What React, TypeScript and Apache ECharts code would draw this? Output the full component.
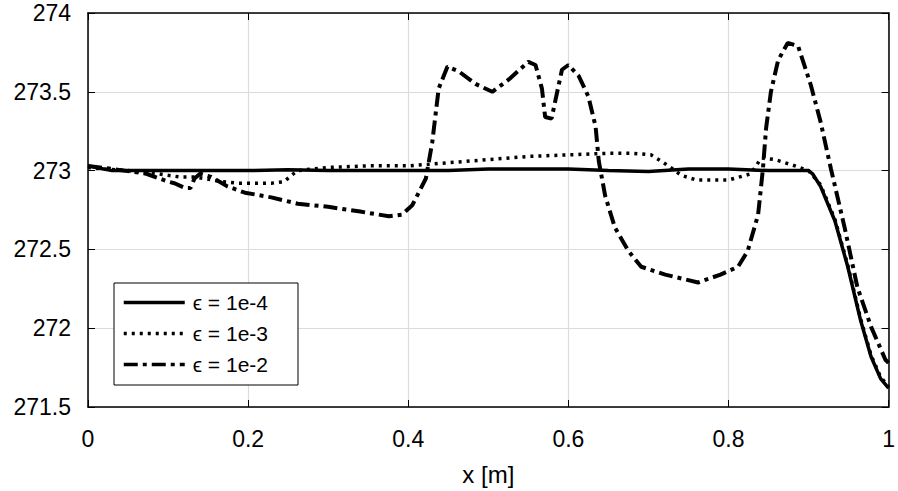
import React, { useEffect, useRef } from "react";
import * as echarts from "echarts";

const xTicks = [0, 0.2, 0.4, 0.6, 0.8, 1];
const yTicks = [271.5, 272, 272.5, 273, 273.5, 274];

const seriesNames = ["\u03f5 = 1e-4", "\u03f5 = 1e-3", "\u03f5 = 1e-2"];

const xSolid = [0, 0.01, 0.03, 0.06, 0.1, 0.15, 0.2, 0.25, 0.3, 0.35, 0.4, 0.45, 0.5, 0.55, 0.6, 0.65, 0.7, 0.75, 0.8, 0.85, 0.9, 0.905, 0.915, 0.933, 0.949, 0.965, 0.978, 0.99, 1.0];
const ySolid = [273.03, 273.02, 273.0, 273.0, 273.0, 273.0, 273.0, 273.005, 273.0, 273.0, 273.0, 273.0, 273.01, 273.01, 273.01, 273.0, 272.995, 273.01, 273.01, 273.0, 273.0, 272.98, 272.9, 272.68, 272.39, 272.05, 271.82, 271.68, 271.62];

const xDotted = [0, 0.02, 0.05, 0.087, 0.1, 0.114, 0.133, 0.145, 0.167, 0.187, 0.204, 0.229, 0.245, 0.254, 0.262, 0.28, 0.3, 0.35, 0.4, 0.45, 0.5, 0.55, 0.6, 0.65, 0.68, 0.703, 0.716, 0.725, 0.741, 0.76, 0.8, 0.828, 0.841, 0.858, 0.883, 0.9, 0.915, 0.933, 0.949, 0.965, 0.978, 0.99, 1.0];
const yDotted = [273.02, 273.01, 273.0, 272.98, 272.97, 272.96, 272.96, 272.95, 272.93, 272.92, 272.92, 272.92, 272.93, 272.97, 273.0, 273.01, 273.02, 273.03, 273.03, 273.05, 273.07, 273.09, 273.1, 273.11, 273.11, 273.1, 273.06, 273.03, 272.97, 272.94, 272.94, 272.98, 273.08, 273.07, 273.03, 273.0, 272.91, 272.69, 272.4, 272.06, 271.83, 271.69, 271.63];

const xDashDot = [0, 0.031, 0.073, 0.1, 0.108, 0.121, 0.128, 0.133, 0.14, 0.154, 0.174, 0.196, 0.229, 0.262, 0.3, 0.34, 0.376, 0.392, 0.405, 0.415, 0.422, 0.43, 0.438, 0.449, 0.463, 0.484, 0.505, 0.526, 0.55, 0.559, 0.567, 0.571, 0.579, 0.584, 0.592, 0.6, 0.613, 0.625, 0.634, 0.638, 0.646, 0.658, 0.675, 0.691, 0.721, 0.762, 0.79, 0.812, 0.824, 0.837, 0.843, 0.847, 0.853, 0.862, 0.874, 0.887, 0.903, 0.915, 0.928, 0.945, 0.961, 0.978, 0.996, 1.0];
const yDashDot = [273.03, 273.01, 272.98, 272.93, 272.92, 272.89, 272.89, 272.95, 272.98, 272.96, 272.9, 272.86, 272.83, 272.79, 272.77, 272.74, 272.71, 272.72, 272.78, 272.88, 272.95, 273.18, 273.52, 273.66, 273.63, 273.55, 273.5, 273.58, 273.69, 273.67, 273.52, 273.34, 273.33, 273.45, 273.64, 273.67, 273.6, 273.47, 273.28, 273.06, 272.84, 272.64, 272.49, 272.39, 272.34, 272.29, 272.34, 272.39, 272.49, 272.72, 273.01, 273.27, 273.5, 273.7, 273.81, 273.79, 273.54, 273.31, 273.01, 272.64, 272.26, 272.01, 271.8, 271.78];

const FONT = "Liberation Sans, Arial, Helvetica, sans-serif";

function zip(xs: number[], ys: number[]) {
  return xs.map((x, i) => [x, ys[i]]);
}

export default function App() {
  const ref = useRef<HTMLDivElement>(null);
  useEffect(() => {
    if (!ref.current) return;
    const chart = echarts.init(ref.current, undefined, { renderer: "svg" });
    const xStep = xTicks[1] - xTicks[0];
    const yStep = yTicks[1] - yTicks[0];
    const axisCommon = {
      axisLine: { show: true, onZero: false, lineStyle: { color: "#000", width: 1.5 } },
      axisTick: { show: true, inside: true, length: 7, lineStyle: { color: "#000", width: 1 } },
    };
    chart.setOption({
      animation: false,
      backgroundColor: "#fff",
      grid: { left: 88, right: 6, top: 13, bottom: 80, containLabel: false },
      legend: {
        orient: "vertical",
        left: 114,
        top: 283,
        data: seriesNames,
        backgroundColor: "#fff",
        borderColor: "#000",
        borderWidth: 1,
        borderRadius: 0,
        padding: [7, 30, 8, 8],
        itemWidth: 61,
        itemHeight: 14,
        itemGap: 6,
        itemStyle: { opacity: 0 },
        lineStyle: { width: 3.5 },
        textStyle: { fontFamily: FONT, fontSize: 21, color: "#000", lineHeight: 22, padding: [3, 0, 0, 3] },
      },
      xAxis: [
        {
          type: "value",
          min: xTicks[0],
          max: xTicks[xTicks.length - 1],
          interval: xStep,
          ...axisCommon,
          splitLine: { show: true, lineStyle: { color: "#dcdcdc", width: 1.2 } },
          axisLabel: { fontFamily: FONT, fontSize: 23, color: "#000", margin: 20, formatter: (v: number) => String(+v.toFixed(1)) },
          name: "x [m]",
          nameLocation: "middle",
          nameGap: 55,
          nameTextStyle: { fontFamily: FONT, fontSize: 24, color: "#000" },
        },
        {
          type: "value",
          position: "top",
          min: xTicks[0],
          max: xTicks[xTicks.length - 1],
          interval: xStep,
          ...axisCommon,
          splitLine: { show: false },
          axisLabel: { show: false },
        },
      ],
      yAxis: [
        {
          type: "value",
          min: yTicks[0],
          max: yTicks[yTicks.length - 1],
          interval: yStep,
          ...axisCommon,
          splitLine: { show: true, lineStyle: { color: "#dcdcdc", width: 1.2 } },
          axisLabel: { fontFamily: FONT, fontSize: 23, color: "#000", margin: 17, formatter: (v: number) => String(+v.toFixed(1)) },
        },
        {
          type: "value",
          position: "right",
          min: yTicks[0],
          max: yTicks[yTicks.length - 1],
          interval: yStep,
          ...axisCommon,
          splitLine: { show: false },
          axisLabel: { show: false },
        },
      ],
      series: [
        {
          name: seriesNames[0],
          type: "line",
          data: zip(xSolid, ySolid),
          showSymbol: false,
          symbol: "none",
          lineStyle: { color: "#000", width: 3.5, type: "solid" },
          itemStyle: { color: "#000" },
        },
        {
          name: seriesNames[1],
          type: "line",
          data: zip(xDotted, yDotted),
          showSymbol: false,
          symbol: "none",
          lineStyle: { color: "#000", width: 3.5, type: [3, 5] },
          itemStyle: { color: "#000" },
        },
        {
          name: seriesNames[2],
          type: "line",
          data: zip(xDashDot, yDashDot),
          showSymbol: false,
          symbol: "none",
          lineStyle: { color: "#000", width: 4, type: [14, 5, 4, 5] },
          itemStyle: { color: "#000" },
        },
      ],
    });
    return () => chart.dispose();
  }, []);
  return <div ref={ref} style={{ width: 898, height: 491, position: "absolute", left: 0, top: 0 }} />;
}
